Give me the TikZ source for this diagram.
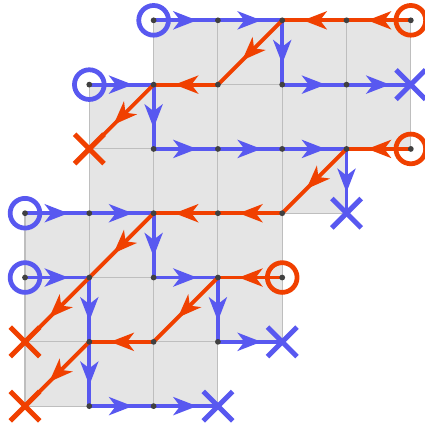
\documentclass[tikz,border=0pt]{standalone}
\usetikzlibrary{arrows.meta,decorations.markings}
\definecolor{bluec}{RGB}{88,88,240}
\definecolor{redc}{RGB}{240,64,0}
\definecolor{cellc}{RGB}{229,229,229}
\definecolor{gridc}{RGB}{190,190,190}
\definecolor{dotc}{RGB}{64,64,64}
\tikzset{
  midarrow/.style={postaction={decorate},decoration={markings,
    mark=at position 0.5 with {\begin{scope}[xshift=5pt]\arrow{Stealth[length=10.5pt,width=8pt,inset=3pt]}\end{scope}}}},
  bseg/.style={draw=bluec,line width=1.7pt,line cap=round,midarrow},
  rseg/.style={draw=redc,line width=1.7pt,line cap=round,midarrow},
  startc/.style={circle,draw=#1,line width=2.1pt,minimum size=0.462cm,inner sep=0pt},
  gdot/.style={circle,fill=dotc,minimum size=0.09cm,inner sep=0pt},
}
\newcommand\xmk[2]{%
  \draw[#1,line width=2.2pt] ([shift={(-0.229,-0.229)}]#2) -- ([shift={(0.229,0.229)}]#2);
  \draw[#1,line width=2.2pt] ([shift={(-0.229,0.229)}]#2) -- ([shift={(0.229,-0.229)}]#2);}
\begin{document}
\begin{tikzpicture}
\useasboundingbox (-0.389,0.316) rectangle (6.205,-6.309);
\foreach \i in {0,...,6}{\foreach \j in {0,...,6}{\coordinate (g\i\j) at (\i,-\j);}}
% gray region
\fill[cellc] (2,0) -- (6,0) -- (6,-2) -- (5,-2) -- (5,-3) -- (4,-3) -- (4,-5) -- (3,-5) -- (3,-6) -- (0,-6) -- (0,-3) -- (1,-3) -- (1,-1) -- (2,-1) -- cycle;
\foreach \j/\a/\b in {0/2/5,1/1/5,2/1/4,3/0/3,4/0/3,5/0/2}{
  \foreach \i in {\a,...,\b}{\draw[gridc,line width=0.5pt] (\i,-\j) rectangle ++(1,-1);}}
% blue paths
\foreach \p/\q in {20/30,30/40,40/41,41/51,51/61,
  11/21,21/22,22/32,32/42,42/52,52/53,
  03/13,13/23,23/24,24/34,34/35,35/45,
  04/14,14/15,15/16,16/26,26/36}{\path[bseg] (g\p) -- (g\q);}
% red paths
\foreach \p/\q in {60/50,50/40,40/31,31/21,21/12,
  62/52,52/43,43/33,33/23,23/14,14/05,
  44/34,34/25,25/15,15/06}{\path[rseg] (g\p) -- (g\q);}
% start circles
\foreach \p in {20,11,03,04}{\node[startc=bluec] (s\p) at (g\p) {};}
\foreach \p in {60,62,44}{\node[startc=redc] (s\p) at (g\p) {};}
% end crosses
\foreach \p in {61,53,45,36}{\xmk{bluec}{g\p}}
\foreach \p in {12,05,06}{\xmk{redc}{g\p}}
% dots
\foreach \p in {20,30,40,41,51,11,21,22,32,42,52,03,13,23,24,34,35,04,14,15,16,26,60,50,31,62,43,33,44,25}{\node[gdot] (d\p) at (g\p) {};}
\end{tikzpicture}
\end{document}
